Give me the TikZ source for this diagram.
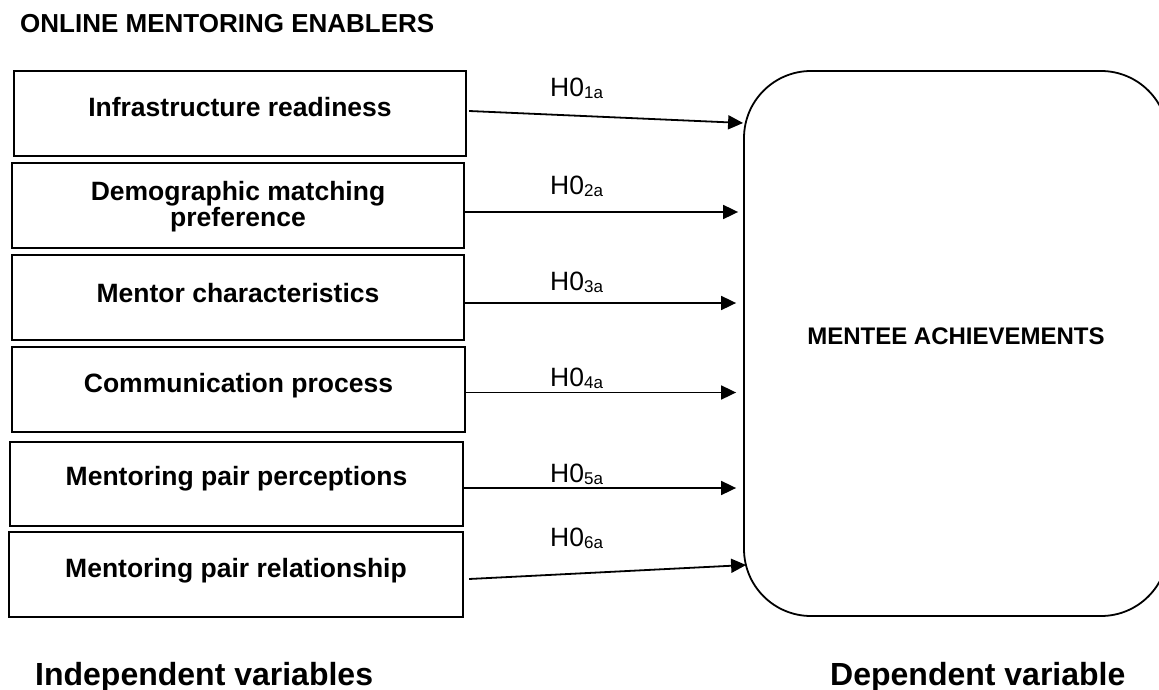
\documentclass[tikz,border=0pt]{standalone}
\usepackage{fontspec}
\setmainfont{Liberation Sans}
\usetikzlibrary{arrows.meta,calc}
% subscript part of a hypothesis label (H0 with index)
\newcommand\hypsub[1]{{\fontsize{17}{17}\selectfont\raisebox{-2pt}{#1}}}
\begin{document}
\begin{tikzpicture}[x=1pt,y=-1pt,
  enabler/.style={draw, line width=2.2pt, minimum height=85pt, inner sep=0pt},
  boxtext/.style={font=\bfseries\fontsize{26.5}{23}\selectfont, inner sep=0pt, anchor=base},
  hyp/.style={font=\fontsize{26.5}{30}\selectfont, inner sep=0pt, anchor=base west},
  flow/.style={line width=1.8pt, -{Triangle[length=15pt,width=14pt]}},
  heading/.style={font=\bfseries\fontsize{32}{36}\selectfont, inner sep=0pt, anchor=base west}]
\useasboundingbox (0,0) rectangle (1159,690);

% title
\node[font=\bfseries\fontsize{26}{30}\selectfont, inner sep=0pt, anchor=base west] (title) at (20,33) {ONLINE MENTORING ENABLERS};

% independent variables
\node[enabler, minimum width=452pt] (b1) at (240,113.5) {};
\node[enabler, minimum width=452pt] (b2) at (238,205.5) {};
\node[enabler, minimum width=452pt] (b3) at (238,297.5) {};
\node[enabler, minimum width=453pt] (b4) at (238.5,389.5) {};
\node[enabler, minimum width=453pt, minimum height=84pt] (b5) at (236.5,484) {};
\node[enabler, minimum width=454pt] (b6) at (236,574.5) {};

\node[boxtext] (t1) at ($(b1.center)+(0,3.5)$) {Infrastructure readiness};
\node[boxtext, align=center, anchor=center] (t2) at ($(b2.center)+(0,1)$) {Demographic matching\\preference};
\node[boxtext] (t3) at ($(b3.center)+(0,4.5)$) {Mentor characteristics};
\node[boxtext] (t4) at ($(b4.center)+(0,2.5)$) {Communication process};
\node[boxtext] (t5) at ($(b5.center)+(0,1.5)$) {Mentoring pair perceptions};
\node[boxtext] (t6) at ($(b6.center)+(0,2.5)$) {Mentoring pair relationship};

% dependent variable
\node[draw, line width=1.8pt, rounded corners=67pt, minimum width=424pt, minimum height=545pt,
      inner sep=0pt, text height=9pt, text depth=8pt,
      font=\bfseries\fontsize{24}{28}\selectfont] (ach) at (956,343.5) {MENTEE ACHIEVEMENTS};

% hypothesis arrows
\coordinate (s1) at ($(b1.east)+(2,-2.5)$);
\coordinate (s2) at ($(b2.east)+(0,6.5)$);
\coordinate (s3) at ($(b3.east)+(0,5.5)$);
\coordinate (s4) at ($(b4.east)+(0,3)$);
\coordinate (s5) at ($(b5.east)+(0,4)$);
\coordinate (s6) at ($(b6.east)+(5,4.5)$);

\draw[flow] (s1) -- ($(s1 -| ach.west)+(0,12)$);
\draw[flow] (s2) -- ($(s2 -| ach.west)+(-5,0)$);
\draw[flow] (s3) -- ($(s3 -| ach.west)+(-7,0)$);
\draw[flow] (s4) -- ($(s4 -| ach.west)+(-7,0)$);
\draw[flow] (s5) -- ($(s5 -| ach.west)+(-7,0)$);
\draw[flow] (s6) -- ($(s6 -| ach.west)+(3,-14)$);

\node[hyp] (h1) at (550,97)  {H0\hypsub{1a}};
\node[hyp] (h2) at (550,194) {H0\hypsub{2a}};
\node[hyp] (h3) at (550,290) {H0\hypsub{3a}};
\node[hyp] (h4) at (550,386) {H0\hypsub{4a}};
\node[hyp] (h5) at (550,482) {H0\hypsub{5a}};
\node[hyp] (h6) at (550,546) {H0\hypsub{6a}};

% captions
\node[heading] (iv) at (35,685) {Independent variables};
\node[heading] (dv) at (830,685) {Dependent variable};
\end{tikzpicture}
\end{document}
